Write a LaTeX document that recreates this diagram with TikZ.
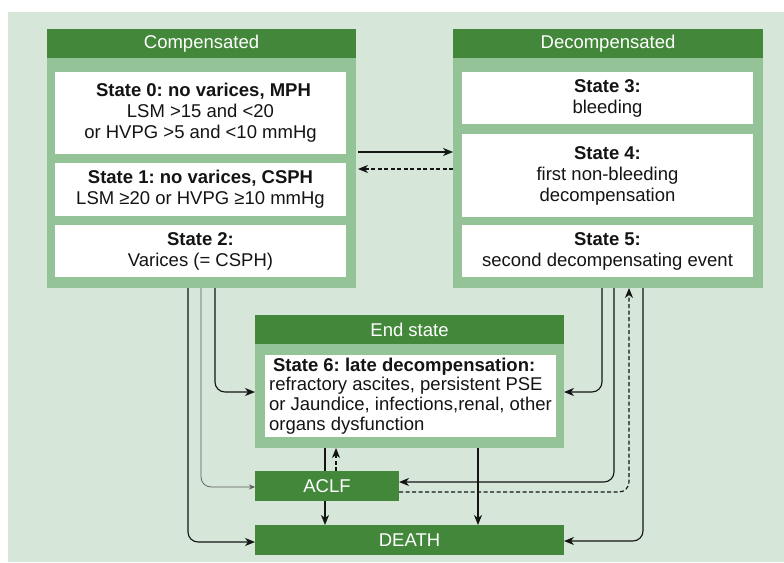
\documentclass[tikz,border=0pt]{standalone}
\usepackage{fontspec}
\setmainfont{Liberation Sans}
\usetikzlibrary{arrows.meta}
\definecolor{dkgreen}{HTML}{43883A}
\definecolor{mdgreen}{HTML}{94C397}
\definecolor{ltgreen}{HTML}{D6E6D8}
\definecolor{ink}{HTML}{141414}
\frenchspacing
\begin{document}
\begin{tikzpicture}[x=1pt,y=-1pt,
  panel/.style={fill=mdgreen, draw=none, anchor=north west, inner sep=0pt, outer sep=0pt},
  header/.style={fill=dkgreen, draw=none, anchor=north west, inner sep=0pt, outer sep=0pt,
     text=white, font=\fontsize{18.5}{21}\selectfont},
  wbox/.style={fill=white, draw=none, anchor=north west, inner sep=0pt, outer sep=0pt,
     text=ink, align=center, font=\fontsize{18.5}{21}\selectfont},
  arr/.style={-{Stealth[length=10pt,width=8pt,inset=3pt]}, line width=1.1pt, draw=ink},
  arrthin/.style={-{Stealth[length=6pt,width=5pt,inset=2pt]}, line width=0.7pt, draw=black!65},
  plain/.style={line width=1.1pt, draw=ink},
  rc/.style={rounded corners=10pt},
  dsh/.style={dash pattern=on 4pt off 2.5pt}
]
\useasboundingbox (0,0) rectangle (784,562);
\fill[white] (0,0) rectangle (784,562);
\fill[ltgreen] (8,12) rectangle (784,562);

% Compensated
\node[panel, minimum width=309pt, minimum height=259pt] (comp) at (47,29) {};
\node[header, minimum width=309pt, minimum height=29pt] (comphd) at (47,29) {Compensated};
\node[wbox, minimum width=291pt, minimum height=82pt] (s0) at (55,72)
  {\hspace{6pt}\textbf{State 0: no varices, MPH}\\LSM >15 and <20\\or HVPG >5 and <10 mmHg};
\node[wbox, minimum width=291pt, minimum height=53pt] (s1) at (55,163)
  {\textbf{State 1: no varices, CSPH}\\LSM ≥20 or HVPG ≥10 mmHg};
\node[wbox, minimum width=291pt, minimum height=52pt] (s2) at (55,225)
  {\textbf{State 2:}\\Varices (= CSPH)};

% Decompensated
\node[panel, minimum width=310pt, minimum height=259pt] (decomp) at (453,29) {};
\node[header, minimum width=310pt, minimum height=29pt] (dechd) at (453,29) {Decompensated};
\node[wbox, minimum width=291pt, minimum height=52pt] (s3) at (462,72)
  {\textbf{State 3:}\\bleeding};
\node[wbox, minimum width=291pt, minimum height=83pt] (s4) at (462,134)
  {\textbf{State 4:}\\first non-bleeding\\decompensation};
\node[wbox, minimum width=291pt, minimum height=52pt] (s5) at (462,225)
  {\textbf{State 5:}\\second decompensating event};

% End state
\node[panel, minimum width=309pt, minimum height=133pt] (endp) at (255,315) {};
\node[header, minimum width=309pt, minimum height=29pt] (endhd) at (255,315) {End state};
\node[wbox, minimum width=291pt, minimum height=82pt, align=left,
      font=\fontsize{18.5}{19.7}\selectfont] (s6) at (265,355)
  {\hspace{4pt}\textbf{State 6: late decompensation:}\\refractory ascites, persistent PSE\\or Jaundice, infections,renal, other\\organs dysfunction};

% ACLF and DEATH
\node[header, minimum width=144pt, minimum height=30pt] (aclf) at (255,471) {ACLF};
\node[header, minimum width=309pt, minimum height=30pt] (death) at (255,525) {DEATH};

% Compensated <-> Decompensated
\draw[arr] ([xshift=2pt,yshift=6.5pt]comp.east) -- ([yshift=6.5pt]decomp.west);
\draw[arr,dsh] ([yshift=-10.5pt]decomp.west) -- ([xshift=2pt,yshift=-10.5pt]comp.east);

% From compensated
\draw[arr,rc] ([xshift=141pt]comp.south west) |- ([yshift=-2pt]death.west);
\draw[arrthin,rc] ([xshift=154pt]comp.south west) |- ([yshift=-1pt]aclf.west);
\draw[arr,rc] ([xshift=168pt]comp.south west) |- ([yshift=-10.5pt]endp.west);

% From decompensated
\draw[arr,rc] ([xshift=149pt]decomp.south west) |- ([yshift=-10.5pt]endp.east);
\draw[arr,rc] ([xshift=161pt]decomp.south west) |- ([yshift=4pt]aclf.east);
\draw[arr,rc,dsh] ([yshift=-6pt]aclf.east) -| ([xshift=176pt]decomp.south west);
\draw[arr,rc] ([xshift=190pt]decomp.south west) |- ([yshift=-1pt]death.east);

% End state / ACLF / DEATH
\draw[plain] ([xshift=70pt]endp.south west) -- ([xshift=70pt]aclf.north west);
\draw[arr] ([xshift=70pt]aclf.south west) -- ([xshift=70pt]death.north west);
\draw[arr,dsh] ([xshift=81pt]aclf.north west) -- ([xshift=81pt]endp.south west);
\draw[arr] ([xshift=223pt]endp.south west) -- ([xshift=223pt]death.north west);
\end{tikzpicture}
\end{document}
